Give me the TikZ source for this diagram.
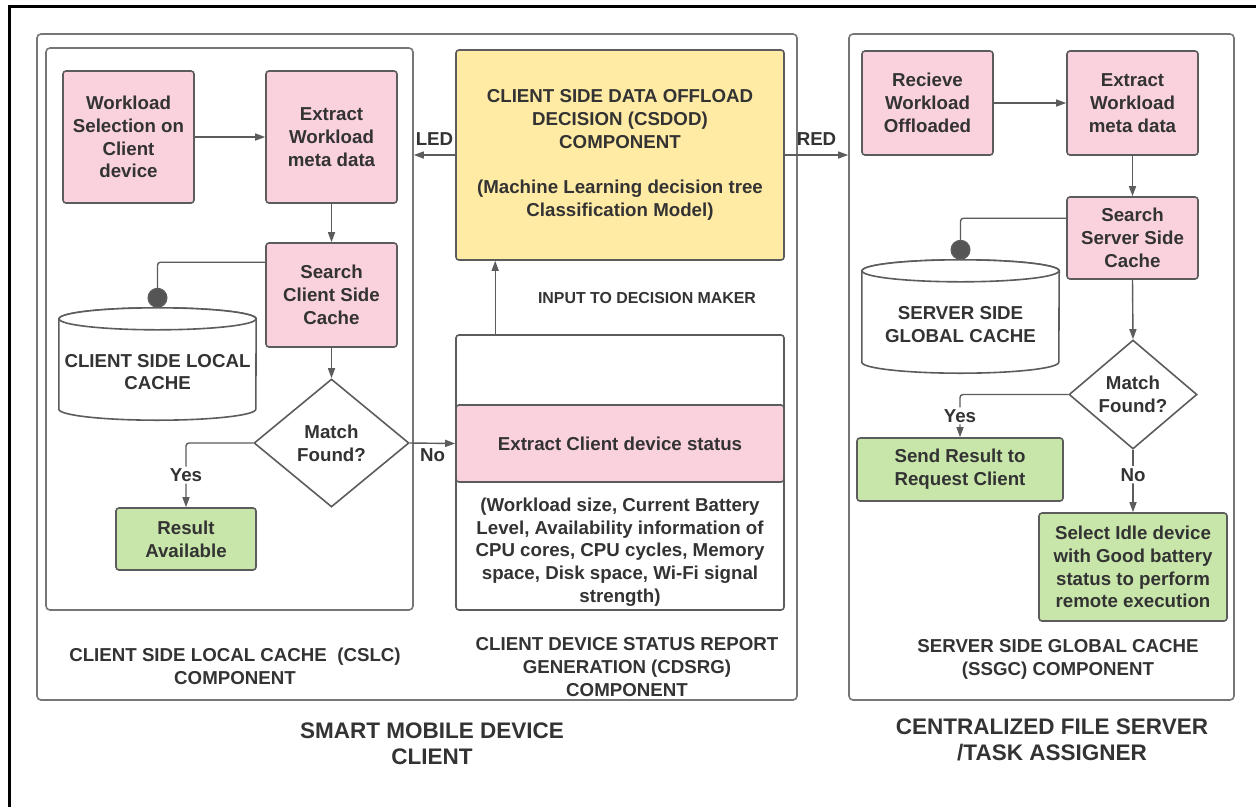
\documentclass[tikz,border=0pt]{standalone}
\usepackage{fontspec}
\setmainfont{Liberation Sans}
\usetikzlibrary{arrows.meta,shapes.geometric}
\definecolor{ink}{HTML}{333333}
\definecolor{edge}{HTML}{5C5C5C}
\definecolor{frameg}{HTML}{767676}
\definecolor{pinkfill}{HTML}{F9D2DD}
\definecolor{greenfill}{HTML}{C8E6AA}
\definecolor{yellowfill}{HTML}{FFEBA4}
\definecolor{dotgray}{HTML}{555555}
\newcommand{\boxfont}{\fontsize{18.7}{22.7}\selectfont\bfseries}
\newcommand{\smallboxfont}{\fontsize{15.9}{19}\selectfont\bfseries}
\newcommand{\titlefont}{\fontsize{22.5}{26}\selectfont\bfseries}

\begin{document}
\begin{tikzpicture}[x=1pt,y=-1pt,
  every node/.style={text=ink, font=\boxfont, align=center, inner sep=0pt},
  container/.style={draw=frameg, line width=1.6pt, rounded corners=4pt},
  procbox/.style={draw=edge, line width=1.6pt, rounded corners=3pt, fill=pinkfill},
  okbox/.style={procbox, fill=greenfill},
  decbox/.style={procbox, fill=yellowfill},
  plainbox/.style={draw=edge, line width=1.6pt, rounded corners=3pt, fill=white},
  choice/.style={diamond, draw=edge, line width=1.6pt, fill=white, inner sep=0pt},
  link/.style={draw=edge, line width=1.4pt, rounded corners=3pt},
  arr/.style={link, -{Triangle[length=10pt,width=7pt]}},
  probe/.style={link, -{Circle[length=20pt,fill=dotgray]}},
  tag/.style={fill=white, inner sep=2pt},
  cyl/.style={draw=edge, line width=1.6pt, fill=white},
]
\useasboundingbox (0,0) rectangle (1256,807);
\fill[white] (0,0) rectangle (1256,807);

% page frame
\draw[line width=3pt, black] (9,807) -- (9,6) -- (1256,6);

% containers
\node[container, minimum width=760pt, minimum height=666pt] (mobile) at (417,367) {};
\node[container, minimum width=367pt, minimum height=562pt] (cslc) at (229.5,329) {};
\node[container, minimum width=385pt, minimum height=666pt] (server) at (1041.5,367) {};

% ---------- client side local cache ----------
\node[procbox, minimum width=131pt, minimum height=132pt] (csel) at (128.5,137) {Workload\\Selection on\\Client\\device};
\node[procbox, minimum width=131pt, minimum height=132pt] (cmeta) at (331.5,137) {Extract\\Workload\\meta data};
\node[procbox, minimum width=131pt, minimum height=104pt] (csearch) at (331.5,295) {Search\\Client Side\\Cache};
\node[choice, minimum width=155pt, minimum height=128pt] (cdiam) at (331.5,443) {Match\\Found?};
\node[okbox, minimum width=140pt, minimum height=62pt] (cres) at (186,539) {Result\\Available};

\node[minimum width=197pt, minimum height=112pt] (ccache) at (157.5,364) {};
\path[cyl] ([yshift=-11pt]ccache.north west) -- ([yshift=11pt]ccache.south west)
  arc[start angle=180, end angle=360, x radius=98.5pt, y radius=11pt]
  -- ([yshift=-11pt]ccache.north east)
  arc[start angle=0, end angle=180, x radius=98.5pt, y radius=11pt] -- cycle;
\draw[cyl] ([yshift=-11pt]ccache.north) ellipse[x radius=98.5pt, y radius=11pt];
\node (ccachetext) at (157.5,372) {CLIENT SIDE LOCAL\\CACHE};

\node (cslclabel) at (235,666) {CLIENT SIDE LOCAL CACHE\ \ (CSLC)\\COMPONENT};

% ---------- decision and status ----------
\node[decbox, minimum width=328pt, minimum height=210pt] (csdod) at (620,155)
  {CLIENT SIDE DATA OFFLOAD\\DECISION (CSDOD)\\COMPONENT\\[22.7pt](Machine Learning decision tree\\Classification Model)};
\node[plainbox, minimum width=328pt, minimum height=275pt] (status) at (620,472.5) {};
\node[procbox, minimum width=328pt, minimum height=77pt] (cstat) at (620,443.5) {Extract Client device status};
\node (statlist) at (620,552) {(Workload size, Current Battery\\Level, Availability information of\\CPU cores, CPU cycles, Memory\\space, Disk space, Wi-Fi signal\\strength)};
\node[font=\smallboxfont] (inputlabel) at (647,298) {INPUT TO DECISION MAKER};
\node (cdsrglabel) at (627,667) {CLIENT DEVICE STATUS REPORT\\GENERATION (CDSRG)\\COMPONENT};

% ---------- server side global cache ----------
\node[procbox, minimum width=131pt, minimum height=104pt] (srecv) at (927.5,103) {Recieve\\Workload\\Offloaded};
\node[procbox, minimum width=131pt, minimum height=104pt] (smeta) at (1132.5,103) {Extract\\Workload\\meta data};
\node[procbox, minimum width=131pt, minimum height=82pt] (ssearch) at (1132.5,238) {Search\\Server Side\\Cache};
\node[choice, minimum width=128pt, minimum height=109pt] (sdiam) at (1133,394.5) {Match\\Found?};
\node[okbox, minimum width=206pt, minimum height=63pt] (ssend) at (960,469.5) {Send Result to\\Request Client};
\node[okbox, minimum width=188pt, minimum height=108pt] (ssel) at (1133,567) {Select Idle device\\with Good battery\\status to perform\\remote execution};

\node[minimum width=197pt, minimum height=113pt] (scache) at (960.5,316.5) {};
\path[cyl] ([yshift=-11pt]scache.north west) -- ([yshift=11pt]scache.south west)
  arc[start angle=180, end angle=360, x radius=98.5pt, y radius=11pt]
  -- ([yshift=-11pt]scache.north east)
  arc[start angle=0, end angle=180, x radius=98.5pt, y radius=11pt] -- cycle;
\draw[cyl] ([yshift=-11pt]scache.north) ellipse[x radius=98.5pt, y radius=11pt];
\node (scachetext) at (960.5,324.5) {SERVER SIDE\\GLOBAL CACHE};

\node (ssgclabel) at (1058,659.5) {SERVER SIDE GLOBAL CACHE\\(SSGC) COMPONENT};

% titles
\node[font=\titlefont] (mobtitle) at (432,744) {SMART MOBILE DEVICE\\CLIENT};
\node[font=\titlefont] (srvtitle) at (1052,740) {CENTRALIZED FILE SERVER\\/TASK ASSIGNER};

% ---------- connectors ----------
\draw[arr] (csel.east) -- (cmeta.west);
\draw[arr] (cmeta.south) -- (csearch.north);
\draw[arr] (csearch.south) -- (cdiam.north);
\draw[probe] ([yshift=-20pt]csearch.north west) -| (ccache.north);
\draw[arr] (cdiam.west) -| node[tag, pos=0.75] {Yes} (cres.north);
\draw[arr] (cdiam.east) -- node[below=5pt, pos=0.5] {No} (cstat.west);
\draw[arr] (csdod.west) -- node[above=9pt] {LED} (csdod.west -| cslc.east);
\draw[arr] (csdod.east) -- node[above=9pt] {RED} (csdod.east -| server.west);
\draw[arr] ([xshift=40pt]status.north west) -- ([xshift=40pt]csdod.south west);

\draw[arr] (srecv.east) -- (smeta.west);
\draw[arr] (smeta.south) -- (ssearch.north);
\draw[arr] (ssearch.south) -- (sdiam.north);
\draw[probe] ([yshift=-22pt]ssearch.north west) -| (scache.north);
\draw[arr] (sdiam.west) -| node[tag, pos=0.75] {Yes} (ssend.north);
\draw[arr] (sdiam.south) -- node[tag, pos=0.4] {No} (ssel.north);
\end{tikzpicture}
\end{document}
